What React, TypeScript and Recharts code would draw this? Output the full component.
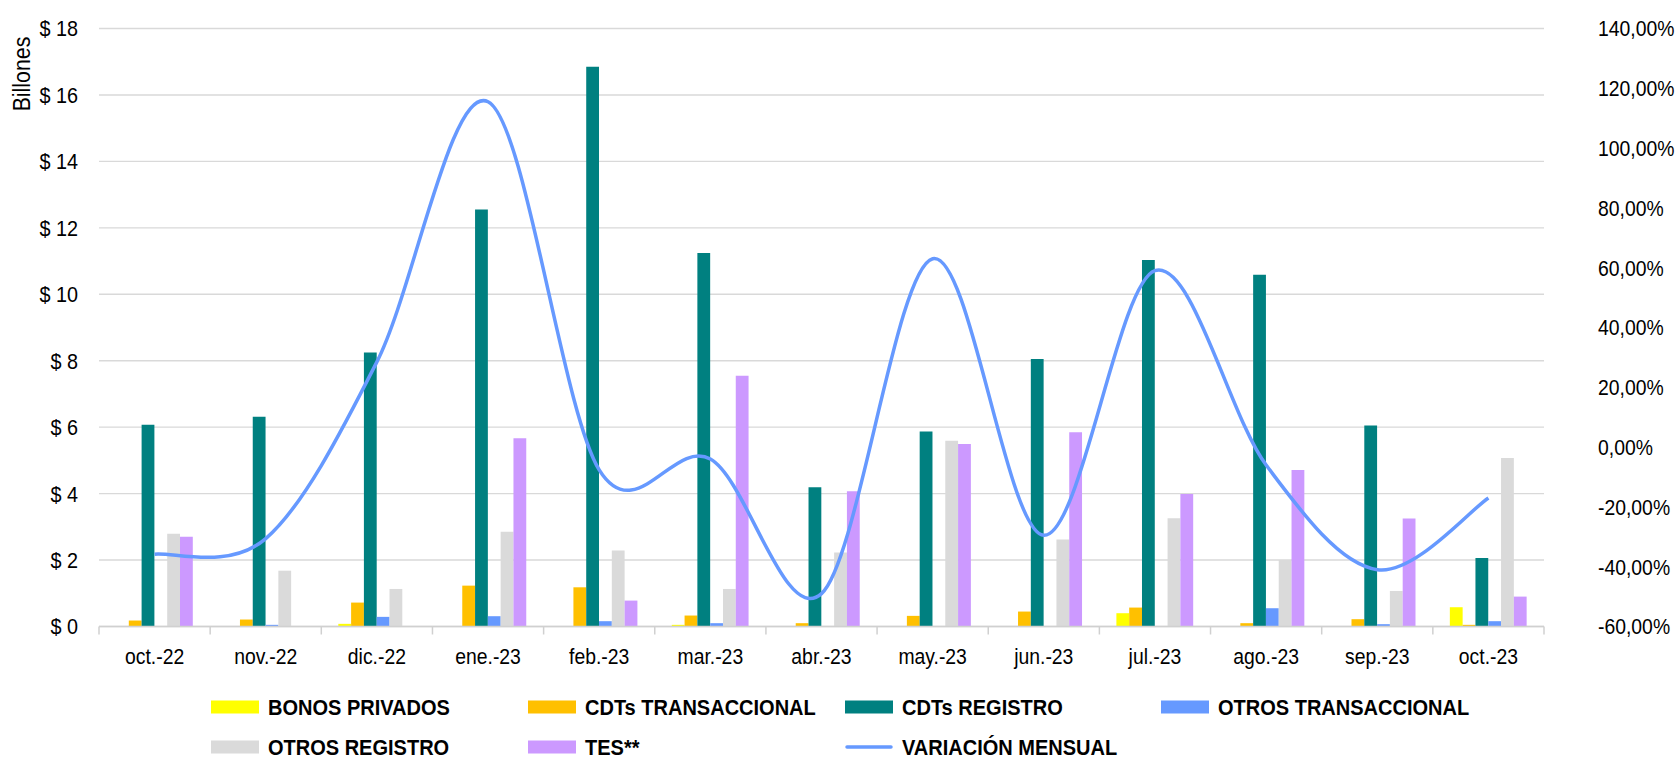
import React from 'react';
import { ComposedChart, Bar, Line, XAxis, YAxis, CartesianGrid } from 'recharts';

const months = ['oct.-22', 'nov.-22', 'dic.-22', 'ene.-23', 'feb.-23', 'mar.-23', 'abr.-23', 'may.-23', 'jun.-23', 'jul.-23', 'ago.-23', 'sep.-23', 'oct.-23'];
const bonosPrivados = [0, 0, 0.08, 0, 0, 0.05, 0, 0, 0, 0.4, 0, 0, 0.58];
const cdtsTransaccional = [0.18, 0.21, 0.72, 1.23, 1.18, 0.33, 0.1, 0.32, 0.45, 0.57, 0.1, 0.22, 0.05];
const cdtsRegistro = [6.07, 6.31, 8.25, 12.55, 16.85, 11.24, 4.19, 5.87, 8.05, 11.03, 10.59, 6.05, 2.06];
const otrosTransaccional = [0, 0.05, 0.29, 0.31, 0.16, 0.1, 0, 0, 0, 0, 0.55, 0.07, 0.16];
const otrosRegistro = [2.79, 1.68, 1.13, 2.85, 2.29, 1.13, 2.23, 5.59, 2.62, 3.26, 2.0, 1.07, 5.07];
const tes = [2.7, 0, 0, 5.67, 0.78, 7.55, 4.07, 5.49, 5.85, 3.99, 4.71, 3.25, 0.9];
// variación mensual en %
const variacionMensual = [-35.8, -30.6, 28.5, 115.5, -7.6, -4, -49, 63, -29.5, 59, -6, -41, -17];

const leftTicks = [0, 2, 4, 6, 8, 10, 12, 14, 16, 18];
const rightTicks = [-60, -40, -20, 0, 20, 40, 60, 80, 100, 120, 140];

const series = [
  { key: 'bonos', name: 'BONOS PRIVADOS', color: '#ffff00' },
  { key: 'cdtT', name: 'CDTs TRANSACCIONAL', color: '#ffc000' },
  { key: 'cdtR', name: 'CDTs REGISTRO', color: '#008080' },
  { key: 'otrosT', name: 'OTROS TRANSACCIONAL', color: '#6699ff' },
  { key: 'otrosR', name: 'OTROS REGISTRO', color: '#dadada' },
  { key: 'tes', name: 'TES**', color: '#cc99ff' },
];
const lineColor = '#6699ff';

const data = months.map((mes, i) => ({
  mes,
  bonos: bonosPrivados[i],
  cdtT: cdtsTransaccional[i],
  cdtR: cdtsRegistro[i],
  otrosT: otrosTransaccional[i],
  otrosR: otrosRegistro[i],
  tes: tes[i],
  variacion: variacionMensual[i],
}));

const FONT = '"Liberation Sans", Arial, sans-serif';
const W = 1680;
const H = 762;
const PLOT_LEFT = 99;
const PLOT_RIGHT = 1544;
const BAND = (PLOT_RIGHT - PLOT_LEFT) / months.length;

// suavizado tipo Excel (Catmull-Rom)
const excelSmooth = (context: any) => {
  let xs: number[] = [];
  let ys: number[] = [];
  return {
    areaStart() {},
    areaEnd() {},
    lineStart() {
      xs = [];
      ys = [];
    },
    point(x: number, y: number) {
      xs.push(+x);
      ys.push(+y);
    },
    lineEnd() {
      const n = xs.length;
      if (!n) return;
      context.moveTo(xs[0], ys[0]);
      for (let i = 0; i < n - 1; i++) {
        const a = Math.max(i - 1, 0);
        const d = Math.min(i + 2, n - 1);
        context.bezierCurveTo(
          xs[i] + (xs[i + 1] - xs[a]) / 6,
          ys[i] + (ys[i + 1] - ys[a]) / 6,
          xs[i + 1] - (xs[d] - xs[i]) / 6,
          ys[i + 1] - (ys[d] - ys[i]) / 6,
          xs[i + 1],
          ys[i + 1]
        );
      }
    },
  };
};

const squeeze = (x: number, y: number, s: number) => `translate(${x} ${y}) scale(${s} 1) translate(${-x} ${-y})`;

function LeftTick(props: any) {
  const { x, y, payload } = props;
  return (
    <text x={x} y={y} dy={8} textAnchor="end" fontSize={22} fontFamily={FONT} fill="#000" transform={squeeze(x, y, 0.9)}>
      {`$ ${payload.value}`}
    </text>
  );
}

function RightTick(props: any) {
  const { x, y, payload } = props;
  return (
    <text x={x} y={y} dy={8} textAnchor="start" fontSize={22} fontFamily={FONT} fill="#000" transform={squeeze(x, y, 0.88)}>
      {`${payload.value},00%`}
    </text>
  );
}

function MonthTick(props: any) {
  const { x, y, payload, index } = props;
  const axisY = y - 10;
  const left = x - BAND / 2;
  const right = x + BAND / 2;
  return (
    <g>
      <line x1={left} x2={left} y1={axisY} y2={axisY + 8} stroke="#d0d0d0" strokeWidth={1.5} />
      {index === months.length - 1 && <line x1={right} x2={right} y1={axisY} y2={axisY + 8} stroke="#d0d0d0" strokeWidth={1.5} />}
      <text x={x} y={axisY} dy={38} textAnchor="middle" fontSize={22} fontFamily={FONT} fill="#000" transform={squeeze(x, axisY, 0.88)}>
        {payload.value}
      </text>
    </g>
  );
}

const legendRows = [
  [series[0], series[1], series[2], series[3]],
  [series[4], series[5], { key: 'line', name: 'VARIACIÓN MENSUAL', color: lineColor }],
];
const legendCols = [211, 528, 845, 1161];
const legendY = [707, 747];

export default function App() {
  return (
    <div style={{ position: 'absolute', left: 0, top: 0, width: W, height: H, background: '#fff' }}>
      <ComposedChart width={W} height={H} data={data} margin={{ top: 28.5, right: 0, bottom: 0, left: 0 }} barGap={0} barSize={12.8}>
        <CartesianGrid yAxisId="left" vertical={false} stroke="#d9d9d9" strokeWidth={1.4} />
        <XAxis
          dataKey="mes"
          height={135.5}
          interval={0}
          tickLine={false}
          tickSize={6}
          tickMargin={4}
          axisLine={{ stroke: '#d0d0d0', strokeWidth: 1.5 }}
          tick={<MonthTick />}
        />
        <YAxis yAxisId="left" width={PLOT_LEFT} domain={[0, 18]} ticks={leftTicks} axisLine={false} tickLine={false} tickSize={6} tickMargin={15} tick={<LeftTick />} />
        <YAxis yAxisId="right" orientation="right" width={W - PLOT_RIGHT} domain={[-60, 140]} ticks={rightTicks} axisLine={false} tickLine={false} tickSize={6} tickMargin={48} tick={<RightTick />} />
        {series.map((s) => (
          <Bar key={s.key} yAxisId="left" dataKey={s.key} name={s.name} fill={s.color} isAnimationActive={false} />
        ))}
        <Line yAxisId="right" dataKey="variacion" name="VARIACIÓN MENSUAL" type={excelSmooth as any} stroke={lineColor} strokeWidth={3.5} dot={false} activeDot={false} isAnimationActive={false} />
      </ComposedChart>
      <svg width={W} height={H} style={{ position: 'absolute', left: 0, top: 0, pointerEvents: 'none' }}>
        <text x={0} y={0} transform="translate(30 74) rotate(-90) scale(0.89 1)" textAnchor="middle" fontSize={24} fontFamily={FONT} fill="#000">
          Billones
        </text>
        {legendRows.map((row, r) =>
          row.map((item, c) => {
            const x = legendCols[c];
            const y = legendY[r];
            return (
              <g key={item.key}>
                {item.key === 'line' ? (
                  <line x1={x + 2} x2={x + 46} y1={y} y2={y} stroke={item.color} strokeWidth={3.5} strokeLinecap="round" />
                ) : (
                  <rect x={x} y={y - 6.5} width={48} height={13} fill={item.color} />
                )}
                <text x={x + 57} y={y + 8} fontSize={22} fontWeight="bold" fontFamily={FONT} fill="#000" transform={squeeze(x + 57, y, 0.91)}>
                  {item.name}
                </text>
              </g>
            );
          })
        )}
      </svg>
    </div>
  );
}
